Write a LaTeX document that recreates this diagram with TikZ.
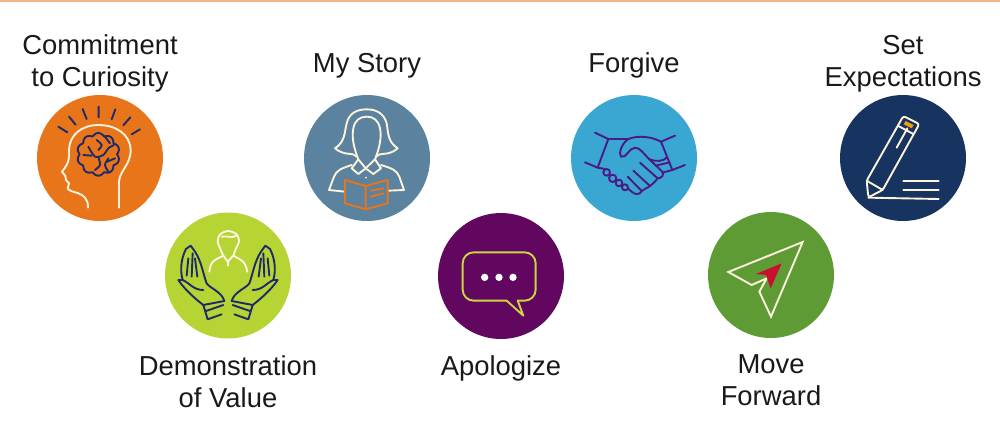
\documentclass[tikz,border=0pt]{standalone}
\usepackage{fontspec}
\setmainfont{Liberation Sans}
\usepackage{tikz}
\usetikzlibrary{positioning}
\definecolor{ruleorange}{HTML}{F2B48A}
\definecolor{badgeorange}{HTML}{E8751A}
\definecolor{badgelime}{HTML}{B6D433}
\definecolor{badgesteel}{HTML}{5B829F}
\definecolor{badgepurple}{HTML}{62075F}
\definecolor{badgecyan}{HTML}{3AA6D2}
\definecolor{badgegreen}{HTML}{5E9B35}
\definecolor{badgenavy}{HTML}{17335F}
\definecolor{inkcream}{HTML}{FBF3DC}
\definecolor{inknavy}{HTML}{1F2A6B}
\definecolor{inkyellow}{HTML}{CBD640}
\definecolor{inkred}{HTML}{C8102E}
\definecolor{inkviolet}{HTML}{4A1A86}
\tikzstyle{badge} = [
    circle, minimum size=2.52cm, inner sep=0pt, draw=none]
\tikzstyle{caption} = [
    align=center, inner sep=0pt, text=black!90,
    font=\fontsize{15.6}{18.2}\selectfont]
\tikzstyle{icon} = [line width=0.038cm, line join=round, line cap=round]

\begin{document}
\begin{tikzpicture}[x=0.02cm, y=-0.02cm]
\useasboundingbox (0,0) rectangle (1000,440);
\coordinate (ruleleft) at (0,0.5);
\coordinate (ruleright) at (1000,0.5);
\draw[ruleorange, line width=0.04cm] (ruleleft) -- (ruleright);

\node (curiosity) [badge, fill=badgeorange] at (100,158) {};
\node (value) [badge, fill=badgelime] at (228,275.5) {};
\node (story) [badge, fill=badgesteel] at (367,158) {};
\node (apologize) [badge, fill=badgepurple] at (501,276) {};
\node (forgive) [badge, fill=badgecyan] at (634,158) {};
\node (forward) [badge, fill=badgegreen] at (771,275) {};
\node (expect) [badge, fill=badgenavy] at (903,158) {};

\node (curiositytext) [caption, above=0.04cm of curiosity] {Commitment\\to Curiosity};
\node (valuetext) [caption, below=0.32cm of value] {Demonstration\\of Value};
\node (storytext) [caption, above=0.32cm of story] {My Story};
\node (apologizetext) [caption, below=0.32cm of apologize] {Apologize};
\node (forgivetext) [caption, above=0.32cm of forgive] {Forgive};
\node (forwardtext) [caption, below=0.32cm of forward] {Move\\Forward};
\node (expecttext) [caption, above=0.04cm of expect] {Set\\Expectations};

\begin{scope}[shift={(20,90)}, scale=1/3, icon]
\draw[inkcream] (297,353) -- (297,275) .. controls (300,240) and (332,225) .. (332,180)
    .. controls (330,130) and (285,105) .. (235,105)
    .. controls (185,105) and (148,135) .. (147,180)
    .. controls (147,205) and (150,215) .. (126,245) -- (136,258) -- (138,270) -- (147,280)
    -- (143,295) .. controls (150,312) and (205,300) .. (204,353);
\draw[inknavy] (115,110) -- (142,127) (147,80) -- (167,104) (188,57) -- (200,87) (236,50) -- (236,82)
    (286,58) -- (275,88) (331,82) -- (310,106) (360,118) -- (335,133);
\draw[inknavy] plot[domain=0:360, samples=150, smooth]
    ({235+(56+8*abs(sin(5*\x)))*cos(\x)}, {193+(56+8*abs(sin(5*\x)))*sin(\x)});
\draw[inknavy] plot[smooth] coordinates {(205,170) (225,200) (250,195) (265,175) (282,165)};
\draw[inknavy] plot[smooth] coordinates {(190,195) (215,197)};
\draw[inknavy] plot[smooth] coordinates {(235,200) (240,225) (225,240)};
\draw[inknavy] plot[smooth] coordinates {(230,150) (245,165) (235,180)};
\draw[inknavy] plot[smooth] coordinates {(255,140) (270,160)};
\draw[inknavy] plot[smooth] coordinates {(265,205) (255,225) (265,245)};
\draw[inknavy] plot[smooth] coordinates {(262,215) (285,205)};
\end{scope}

\begin{scope}[shift={(170,225)}, scale=1/3, icon]
\draw[inkcream] plot[smooth] coordinates {(160,92) (150,70) (143,50) (150,28) (175,18) (200,28) (207,50) (198,70) (190,92)};
\draw[inkcream] (155,35) .. controls (170,32) and (185,40) .. (200,32);
\draw[inkcream] (118,140) .. controls (122,105) and (135,105) .. (160,92) -- (173,110) -- (190,92)
    .. controls (212,105) and (225,105) .. (232,140);
\draw[inkcream] (173,110) -- (173,122);
\foreach \mirror in {1,-1} {
\begin{scope}[shift={(174,0)}, xscale=\mirror, shift={(-174,0)}]
\draw[inknavy] (163,228) .. controls (155,200) and (120,190) .. (110,175)
    .. controls (100,150) and (95,110) .. (75,80) -- (62,62) -- (48,72)
    .. controls (36,95) and (28,130) .. (38,165) -- (25,165)
    .. controls (45,195) and (80,225) .. (100,240);
\draw[inknavy] (100,240) -- (163,228) (108,258) -- (160,240) (113,283) -- (155,268) (100,240) -- (113,283);
\draw[inknavy] (38,165) .. controls (60,175) and (70,195) .. (100,195);
\draw[inknavy] (50,152) -- (55,100) (65,155) -- (68,85) (82,155) -- (75,100);
\end{scope}
}
\end{scope}

\begin{scope}[shift={(325,100)}, scale=1/3, icon]
\draw[inkcream] (95,170) .. controls (85,155) and (60,170) .. (30,145)
    .. controls (60,125) and (58,100) .. (65,70)
    .. controls (72,40) and (95,28) .. (125,28)
    .. controls (160,28) and (178,45) .. (185,70)
    .. controls (190,100) and (188,125) .. (218,145)
    .. controls (190,170) and (165,155) .. (152,170);
\draw[inkcream] (100,178) .. controls (85,140) and (80,110) .. (85,85)
    .. controls (90,60) and (105,50) .. (125,50)
    .. controls (145,50) and (160,60) .. (165,85)
    .. controls (170,110) and (165,140) .. (150,178) -- (122,205) -- cycle;
\draw[inkcream] (100,178) -- (80,205) -- (100,222) -- (122,205) -- (145,222) -- (168,205) -- (150,178);
\draw[inkcream] (80,195) .. controls (50,205) and (35,210) .. (27,230) -- (12,270) -- (60,275);
\draw[inkcream] (168,195) .. controls (200,205) and (215,210) .. (223,230) -- (237,270) -- (190,272);
\fill[inkcream] (123,233) circle[radius=3];
\draw[badgeorange] (60,240) -- (122,258) -- (188,240) -- (188,310) -- (122,328) -- (60,310) -- cycle;
\draw[badgeorange] (122,258) -- (122,328) (137,272) -- (175,265) (137,290) -- (175,280);
\end{scope}

\begin{scope}[shift={(295,90)}, scale=1/3, icon]
\draw[inkyellow, rounded corners=0.22cm] (635,632) -- (503,632) -- (503,487) -- (722,487) -- (722,632) -- (668,632);
\draw[inkyellow] (635,632) -- (685,677) -- (668,632);
\foreach \dotx in {569,612,654} {
    \fill[white] (\dotx,562) circle[radius=11];
}
\end{scope}

\begin{scope}[shift={(585,125)}, scale=1/3, icon]
\draw[inkviolet] (30,23) -- (70,42) -- (38,128) -- (0,112);
\draw[inkviolet] (270,32) -- (228,50) -- (262,135) -- (300,120);
\draw[inkviolet] (70,42) -- (130,42);
\draw[inkviolet] (228,50) .. controls (200,35) and (160,30) .. (130,42)
    .. controls (110,55) and (100,85) .. (108,95) .. controls (125,100) and (130,70) .. (150,68)
    .. controls (165,68) and (175,85) .. (190,100) -- (232,140)
    .. controls (238,150) and (230,160) .. (218,160) -- (165,113);
\draw[inkviolet] (218,160) .. controls (210,170) and (205,175) .. (195,183) -- (145,137);
\draw[inkviolet] (195,183) .. controls (185,190) and (178,192) .. (170,198) -- (128,155);
\draw[inkviolet] (170,198) .. controls (165,210) and (150,210) .. (140,200) -- (128,190);
\draw[inkviolet] (38,128) -- (60,132);
\draw[inkviolet] (192,102) .. controls (215,112) and (235,108) .. (245,98);
\draw[inkviolet] (212,122) -- (254,112) (232,143) -- (262,135);
\draw[inkviolet] (65,142) circle[radius=10] (83,160) circle[radius=11] (102,174) circle[radius=10] (120,187) circle[radius=9];
\end{scope}

\begin{scope}[shift={(565,90)}, scale=1/3, icon]
\draw[inkcream, line join=miter] (713,456) -- (490,546) -- (560,585) -- (605,565) -- (583,605) -- (618,680) -- cycle;
\fill[inkred] (650,520) -- (573,552) -- (603,555) -- (617,595) -- cycle;
\end{scope}

\begin{scope}[shift={(830,0)}, scale=1/3, icon]
\draw[inkcream, rounded corners=0.05cm] (115,592) -- (110,542) -- (220,348) -- (268,372) -- (158,570) -- cycle;
\draw[inkcream] (110,542) -- (158,570) (205,378) -- (250,402) (200,443) -- (232,385);
\fill[badgeorange!70!yellow] (227,363) -- (251,375) -- (245,385) -- (221,373) -- cycle;
\draw[inkcream] (220,543) -- (326,543) (220,570) -- (326,570) (115,593) -- (326,597);
\end{scope}
\end{tikzpicture}
\end{document}
